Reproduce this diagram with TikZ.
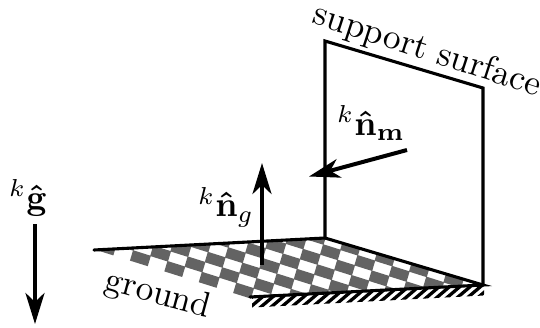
\documentclass[tikz,border=0pt]{standalone}
\usepackage{amsmath,amssymb}
\usetikzlibrary{arrows.meta}
\definecolor{cellgray}{HTML}{636363}
\tikzset{
  edgeline/.style={line width=3.1pt,line join=miter,line cap=round},
  vecarrow/.style={line width=4pt,-{Stealth[length=31pt,width=19pt,inset=9pt]}},
  bigtext/.style={scale=3.52,inner sep=0pt,outer sep=0pt},
  mathtext/.style={scale=3.5,inner sep=0pt,outer sep=0pt},
}
\begin{document}
\begin{tikzpicture}[x=1pt,y=-1pt]
\useasboundingbox (0,0) rectangle (540,327);
\coordinate (A) at (94,250);
\coordinate (B) at (325,238);
\coordinate (C) at (483,285);
\coordinate (D) at (250,297);
\coordinate (E) at (325,41);
\coordinate (F) at (483,88);
% checker
\begin{scope}
\clip (A) -- (B) -- (C) -- (D) -- (232,312) -- (90,270) -- cycle;
\foreach \i in {-12,...,14}{
  \foreach \j in {-10,...,4}{
    \pgfmathtruncatemacro{\parity}{mod(abs(\i+\j),2)}
    \ifnum\parity=0
      \pgfmathsetmacro{\cx}{290+\i*17.2-\j*3}
      \pgfmathsetmacro{\cy}{261.4+\i*5.4+\j*10}
      \fill[cellgray] (\cx-8.9+1.55,\cy-2.8-5.2) -- (\cx+8.9+1.55,\cy+2.8-5.2)
        -- (\cx+8.9-1.55,\cy+2.8+5.2) -- (\cx-8.9-1.55,\cy-2.8+5.2) -- cycle;
    \fi
  }
}
\end{scope}
% hatching
\begin{scope}
\clip (252,298) -- (484,286) -- (484,295.5) -- (252,307.5) -- cycle;
\foreach \k in {0,...,25}{
  \draw[line width=3.3pt] (232+\k*10.3,314) -- (272+\k*10.3,280);
}
\end{scope}
% outlines
\draw[edgeline] (A) -- (B) -- (C) -- (D);
\draw[edgeline] (B) -- (E) -- (F) -- (C);
% vectors
\coordinate (m1) at (407,150);
\coordinate (m2) at (309,176.5);
\coordinate (n1) at (262,265);
\coordinate (n2) at (262,163);
\coordinate (g1) at (35,224);
\coordinate (g2) at (35,324);
\draw[vecarrow] (m1) -- (m2);
\draw[vecarrow] (n1) -- (n2);
\draw[vecarrow] (g1) -- (g2);
% labels
\node[bigtext,rotate=-18] (support) at (427,51) {support surface};
\node[bigtext,rotate=-15] (ground) at (158,295) {ground};
\node[mathtext] (lm) at (371,123) {$^{k}\boldsymbol{\hat{\mathbf n}}_{\mathbf m}$};
\node[mathtext] (lg) at (226,207) {$^{k}\boldsymbol{\hat{\mathbf n}}_{g}$};
\node[mathtext] (lk) at (28,198) {$^{k}\boldsymbol{\hat{\mathbf g}}$};
\end{tikzpicture}
\end{document}
